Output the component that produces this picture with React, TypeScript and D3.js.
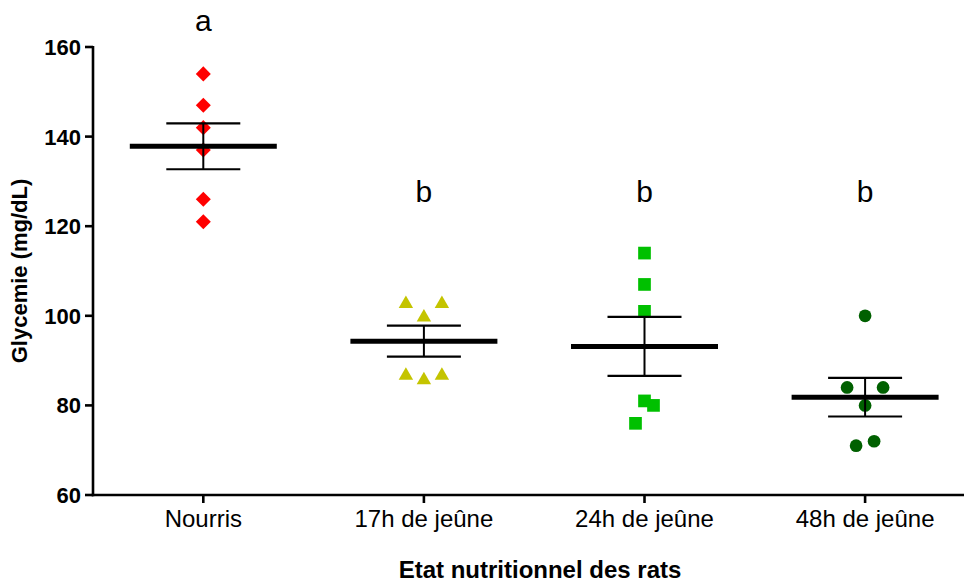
import React from "react";
import * as d3 from "d3";

const categories = ["Nourris", "17h de jeûne", "24h de jeûne", "48h de jeûne"];
const nourris = [154, 147, 142, 137, 126, 121];
const jeune17 = [103, 103, 100, 87, 86, 87];
const jeune24 = [114, 107, 101, 81, 80, 76];
const jeune48 = [100, 84, 84, 80, 71, 72];
// horizontal scatter slots (GraphPad-like column placement), in half-symbol steps
const slots17 = [-2, 2, 0, -2, 0, 2];
const slots24 = [0, 0, 0, 0, 1, -1];
const slots48 = [0, -2, 2, 0, -1, 1];
const slotsNourris = [0, 0, 0, 0, 0, 0];
const letters = ["a", "b", "b", "b"];
const yTicks = [60, 80, 100, 120, 140, 160];

const W = 964;
const H = 584;
const colors = ["#ff0000", "#c4c400", "#00c000", "#006000"];
const shapes = [d3.symbolSquare, d3.symbolTriangle, d3.symbolSquare, d3.symbolCircle];
const sizes = [113, 90, 161, 127];

function meanSem(v: number[]) {
  const m = d3.mean(v)!;
  const sd = d3.deviation(v)!;
  return { m, sem: sd / Math.sqrt(v.length) };
}

export default function App() {
  const groups = [nourris, jeune17, jeune24, jeune48];
  const slots = [slotsNourris, slots17, slots24, slots48];
  const y = d3.scaleLinear().domain([60, 160]).range([495, 47]);
  const x = d3.scalePoint<string>().domain(categories).range([93, 975.4]).padding(0.5);
  const slotStep = 9;
  const font = "Liberation Sans, Arial, Helvetica, sans-serif";

  const symbolPath = (i: number) => d3.symbol().type(shapes[i]).size(sizes[i])()!;

  return (
    <svg
      width={W}
      height={H}
      style={{ position: "absolute", left: 0, top: 0, display: "block", background: "#fff" }}
      fontFamily={font}
    >
      {/* points */}
      {groups.map((g, gi) =>
        g.map((v, i) => {
          const cx = x(categories[gi])! + slots[gi][i] * slotStep;
          const cy = y(v);
          let transform = `translate(${cx},${cy})`;
          if (gi === 0) transform += " rotate(45)";
          if (gi === 1) transform = `translate(${cx},${cy + 1.5})`;
          return <path key={`${gi}-${i}`} d={symbolPath(gi)} transform={transform} fill={colors[gi]} />;
        })
      )}
      {/* mean & SEM */}
      {groups.map((g, gi) => {
        const { m, sem } = meanSem(g);
        const cx = x(categories[gi])!;
        return (
          <g key={`ms-${gi}`} stroke="#000">
            <line x1={cx} x2={cx} y1={y(m + sem)} y2={y(m - sem)} strokeWidth={2} />
            <line x1={cx - 37} x2={cx + 37} y1={y(m + sem)} y2={y(m + sem)} strokeWidth={2.2} />
            <line x1={cx - 37} x2={cx + 37} y1={y(m - sem)} y2={y(m - sem)} strokeWidth={2.2} />
            <line x1={cx - 73.5} x2={cx + 73.5} y1={y(m)} y2={y(m)} strokeWidth={5} />
          </g>
        );
      })}
      {/* y axis */}
      <line x1={93} x2={93} y1={y(160) - 1} y2={y(60) + 1.3} stroke="#000" strokeWidth={2.6} />
      {yTicks.map((t) => (
        <g key={`yt-${t}`}>
          <line x1={85} x2={93} y1={y(t)} y2={y(t)} stroke="#000" strokeWidth={2.6} />
          <text x={81} y={y(t)} dy="0.36em" textAnchor="end" fontSize={22} fontWeight="bold">
            {t}
          </text>
        </g>
      ))}
      {/* x axis */}
      <line x1={91.7} x2={W} y1={495} y2={495} stroke="#000" strokeWidth={2.6} />
      {categories.map((c) => (
        <g key={`xt-${c}`}>
          <line x1={x(c)!} x2={x(c)!} y1={495} y2={503} stroke="#000" strokeWidth={2.6} />
          <text x={x(c)!} y={527} textAnchor="middle" fontSize={24}>
            {c}
          </text>
        </g>
      ))}
      {/* letters */}
      {categories.map((c, i) => (
        <text key={`l-${c}`} x={x(c)!} y={i === 0 ? 31 : 202} textAnchor="middle" fontSize={30}>
          {letters[i]}
        </text>
      ))}
      {/* titles */}
      <text x={540} y={578} textAnchor="middle" fontSize={24} fontWeight="bold">
        Etat nutritionnel des rats
      </text>
      <text
        transform={`translate(27,${(y(60) + y(160)) / 2}) rotate(-90)`}
        textAnchor="middle"
        fontSize={22}
        fontWeight="bold"
      >
        Glycemie (mg/dL)
      </text>
    </svg>
  );
}
